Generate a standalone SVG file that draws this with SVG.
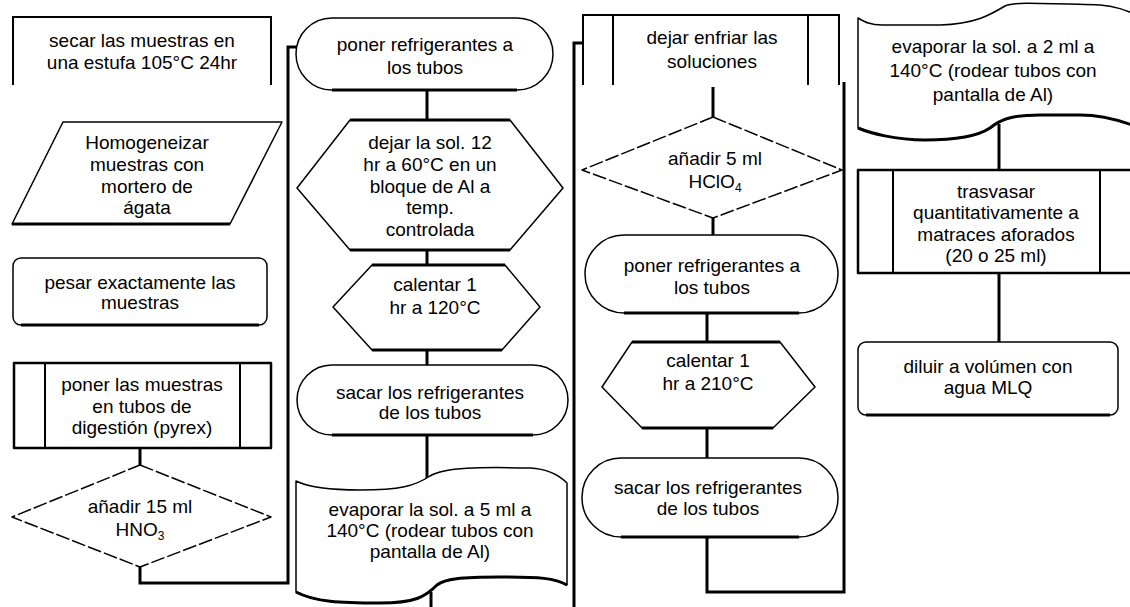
<svg xmlns="http://www.w3.org/2000/svg" width="1130" height="607" viewBox="0 0 1130 607">
<style>
.s{fill:#fff;stroke:#000;stroke-width:1.5;stroke-linejoin:round}
.o{fill:none;stroke:#000;stroke-width:2}
.b{fill:none;stroke:#000;stroke-width:3}
.c{fill:none;stroke:#000;stroke-width:3}
text{font-family:"Liberation Sans",Arial,sans-serif;font-size:19px;text-anchor:middle;fill:#000}
.sub{font-size:12px}
</style>
<rect width="1130" height="607" fill="#fff"/>
<g id="connectors">
<path class="c" d="M140,448 V465"/>
<path class="c" d="M140,567 V583 H288 V47 H298"/>
<path class="c" d="M427,90 V120"/>
<path class="c" d="M427,250 V265"/>
<path class="c" d="M427,350 V365"/>
<path class="c" d="M427,435 V478"/>
<path class="c" d="M431,592 V607"/>
<path class="c" d="M574,607 V43 H583"/>
<path class="c" d="M713,87 V117"/>
<path class="c" d="M713,218 V235"/>
<path class="c" d="M707,313 V342"/>
<path class="c" d="M707,428 V458"/>
<path class="c" d="M707,537 V592 H844 V82"/>
<path class="c" d="M999,124 V170"/>
<path class="c" d="M999,273 V342"/>
</g>
<g id="n1">
<path class="o" d="M13,85 V17 H271 V85"/>
<text x="142" y="47">secar las muestras en</text>
<text x="142" y="69">una estufa 105°C 24hr</text>
</g>
<g id="n2">
<polygon class="s" points="63,122 282,122 230,224 12,224"/>
<path class="b" d="M12,224 H230"/>
<text x="147" y="149">Homogeneizar</text>
<text x="147" y="171">muestras con</text>
<text x="147" y="193">mortero de</text>
<text x="147" y="214">ágata</text>
</g>
<g id="n3">
<rect class="s" x="13" y="258" width="254" height="67" rx="8"/>
<path class="b" d="M21,325 H259"/>
<text x="140" y="289">pesar exactamente las</text>
<text x="140" y="309">muestras</text>
</g>
<g id="n4">
<rect class="s" x="14" y="363" width="257" height="85" style="stroke-width:2.5"/>
<path class="o" d="M45,363 V448 M240,363 V448"/>
<text x="142" y="391">poner las muestras</text>
<text x="142" y="413">en tubos de</text>
<text x="142" y="434">digestión (pyrex)</text>
</g>
<g id="n5">
<polygon class="s" points="140,465 271,517 140,567 12,517" style="stroke-dasharray:14 3"/>
<text x="140" y="513">añadir 15 ml</text>
<text x="140" y="536">HNO<tspan class="sub" dy="4">3</tspan></text>
</g>
<g id="n6">
<rect class="s" x="296" y="18" width="257" height="72" rx="36"/>
<path class="b" d="M332,90 H517"/>
<text x="425" y="51">poner refrigerantes a</text>
<text x="425" y="74">los tubos</text>
</g>
<g id="n7">
<polygon class="s" points="350,120 510,120 563,188 510,250 350,250 297,188"/>
<path class="b" d="M350,120 H510 M350,250 H510"/>
<text x="430" y="149">dejar la sol. 12</text>
<text x="430" y="171">hr a 60°C en un</text>
<text x="430" y="193">bloque de Al a</text>
<text x="430" y="214">temp.</text>
<text x="430" y="236">controlada</text>
</g>
<g id="n8">
<polygon class="s" points="372,265 505,265 540,307 502,350 372,350 333,307"/>
<path class="b" d="M372,265 H505 M372,350 H502"/>
<text x="435" y="291">calentar 1</text>
<text x="435" y="314">hr a 120°C</text>
</g>
<g id="n9">
<rect class="s" x="297" y="365" width="271" height="70" rx="35"/>
<path class="b" d="M332,435 H533"/>
<text x="430" y="399">sacar los refrigerantes</text>
<text x="430" y="419">de los tubos</text>
</g>
<g id="n10">
<path class="s" d="M296,481 C310,488 330,490 360,490 C400,490 415,486 430,476 C445,467 480,467 530,468 C550,469 560,476 567,483 L567,585 C555,578 540,577 500,577 C460,577 445,579 437,585 C425,597 415,603 380,603 C340,603 315,602 296,592 Z"/>
<path class="b" d="M567,585 C555,578 540,577 500,577 C460,577 445,579 437,585 C425,597 415,603 380,603 C340,603 315,602 296,592"/>
<text x="430" y="516">evaporar la sol. a 5 ml a</text>
<text x="430" y="537">140°C (rodear tubos con</text>
<text x="430" y="558">pantalla de Al)</text>
</g>
<g id="n11">
<path class="o" d="M583,85 V15 H839 V85 M613,15 V85 M808,15 V85"/>
<text x="712" y="44">dejar enfriar las</text>
<text x="712" y="68">soluciones</text>
</g>
<g id="n12">
<polygon class="s" points="713,117 842,170 713,218 582,170" style="stroke-dasharray:14 3"/>
<text x="715" y="165">añadir 5 ml</text>
<text x="715" y="188">HClO<tspan class="sub" dy="4">4</tspan></text>
</g>
<g id="n13">
<rect class="s" x="585" y="235" width="253" height="78" rx="39"/>
<path class="b" d="M624,313 H799"/>
<text x="712" y="272">poner refrigerantes a</text>
<text x="712" y="294">los tubos</text>
</g>
<g id="n14">
<polygon class="s" points="632,342 780,342 815,387 773,428 642,428 602,387"/>
<path class="b" d="M632,342 H780 M642,428 H773"/>
<text x="708" y="367">calentar 1</text>
<text x="708" y="390">hr a 210°C</text>
</g>
<g id="n15">
<rect class="s" x="582" y="458" width="256" height="79" rx="39"/>
<path class="b" d="M621,537 H799"/>
<text x="708" y="494">sacar los refrigerantes</text>
<text x="708" y="515">de los tubos</text>
</g>
<g id="n16">
<path class="s" d="M858,18 C865,22 870,25 882,25 L940,25 C975,24 990,15 1005,6 C1015,2 1030,3 1100,5 C1115,6 1125,10 1140,16 L1140,128 C1120,120 1100,115 1080,115 L1040,115 C1010,115 1000,120 990,128 C975,138 950,140 925,140 C895,140 870,133 858,128 Z"/>
<path class="b" d="M1140,128 C1120,120 1100,115 1080,115 L1040,115 C1010,115 1000,120 990,128 C975,138 950,140 925,140 C895,140 870,133 858,128"/>
<text x="993" y="53">evaporar la sol. a 2 ml a</text>
<text x="993" y="77">140°C (rodear tubos con</text>
<text x="993" y="101">pantalla de Al)</text>
</g>
<g id="n17">
<rect class="s" x="858" y="170" width="290" height="103" style="stroke-width:2.5"/>
<path class="o" d="M893,170 V273 M1100,170 V273"/>
<text x="996" y="198">trasvasar</text>
<text x="996" y="219">quantitativamente a</text>
<text x="996" y="241">matraces aforados</text>
<text x="996" y="262">(20 o 25 ml)</text>
</g>
<g id="n18">
<rect class="s" x="858" y="342" width="260" height="73" rx="8"/>
<path class="b" d="M866,415 H1110"/>
<text x="988" y="373">diluir a volúmen con</text>
<text x="988" y="394">agua MLQ</text>
</g>
</svg>
